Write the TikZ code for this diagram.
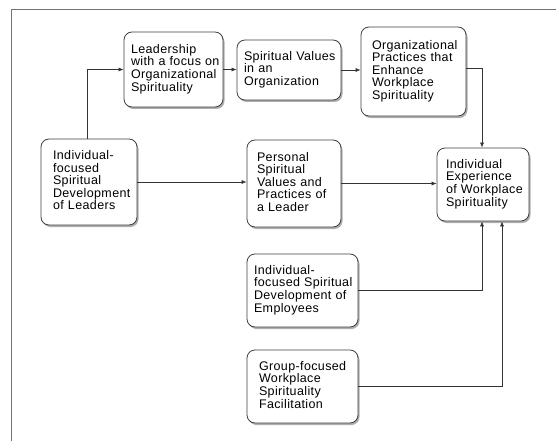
\documentclass[tikz,border=0pt]{standalone}
\usepackage{fontspec}
\setmainfont{Liberation Sans}[LetterSpace=3]
\usetikzlibrary{shadows,arrows.meta,calc}
\newcommand{\lines}[1]{\begin{tabular}{@{}l@{}}#1\end{tabular}}
\begin{document}
\begin{tikzpicture}[x=1pt,y=-1pt,
  box/.style={draw=black!75, line width=0.8pt, fill=white, rounded corners=8pt,
    align=left, inner ysep=0pt,
    font=\fontsize{12.5}{11.8}\selectfont,
    drop shadow={shadow xshift=1.5pt, shadow yshift=-2pt, fill=black!45, opacity=0.7}},
  arr/.style={draw=black!80, line width=0.6pt, -{Latex[length=5pt,width=4pt]}}]
\useasboundingbox (0,0) rectangle (556,441);
\fill[white] (0,0) rectangle (556,441);
\draw[black!55, line width=0.8pt] (11,441) -- (11,9) -- (556,9);

\node[box, text width=85pt, inner xsep=7pt, minimum height=75pt] (lead) at (173.5,69.5)
  {\lines{Leadership\\with a focus on\\Organizational\\Spirituality}};
\node[box, text width=90pt, inner xsep=7pt, minimum height=60pt] (sval) at (289,70)
  {\lines{Spiritual Values\\in an\\Organization}};
\node[box, text width=83pt, inner xsep=11pt, minimum height=89pt] (orgp) at (413.5,71.5)
  {\lines{Organizational\\Practices that\\Enhance\\Workplace\\Spirituality}};
\node[box, text width=72pt, inner xsep=12pt, minimum height=86pt] (indl) at (89,182)
  {\lines{Individual-\\focused\\Spiritual\\Development\\of Leaders}};
\node[box, text width=74pt, inner xsep=10pt, minimum height=87pt] (pers) at (294,183.5)
  {\lines{Personal\\Spiritual\\Values and\\Practices of\\a Leader}};
\node[box, text width=74pt, inner xsep=9pt, minimum height=73pt] (iexp) at (483,184.5)
  {\lines{Individual\\Experience\\of Workplace\\Spirituality}};
\node[box, text width=97pt, inner xsep=7pt, minimum height=73pt] (emp) at (302.5,290.5)
  {\lines{Individual-\\focused Spiritual\\Development of\\Employees}};
\node[box, text width=87pt, inner xsep=12pt, minimum height=73pt] (grp) at (302.5,386.5)
  {\lines{Group-focused\\Workplace\\Spirituality\\Facilitation}};

\draw[arr] ([xshift=-2pt]indl.north) |- (lead.west);
\draw[arr] (lead.east) -- (lead.east -| sval.west);
\draw[arr] (sval.east) -- (sval.east -| orgp.west);
\draw[arr] ([yshift=3pt]orgp.east) -| ([xshift=-1pt]iexp.north);
\draw[arr] (indl.east) -- (indl.east -| pers.west);
\draw[arr] (pers.east) -- (pers.east -| iexp.west);
\draw[arr] (emp.east) -| ([xshift=-1pt]iexp.south);
\draw[arr] (grp.east) -| ([xshift=19pt]iexp.south);
\end{tikzpicture}
\end{document}
